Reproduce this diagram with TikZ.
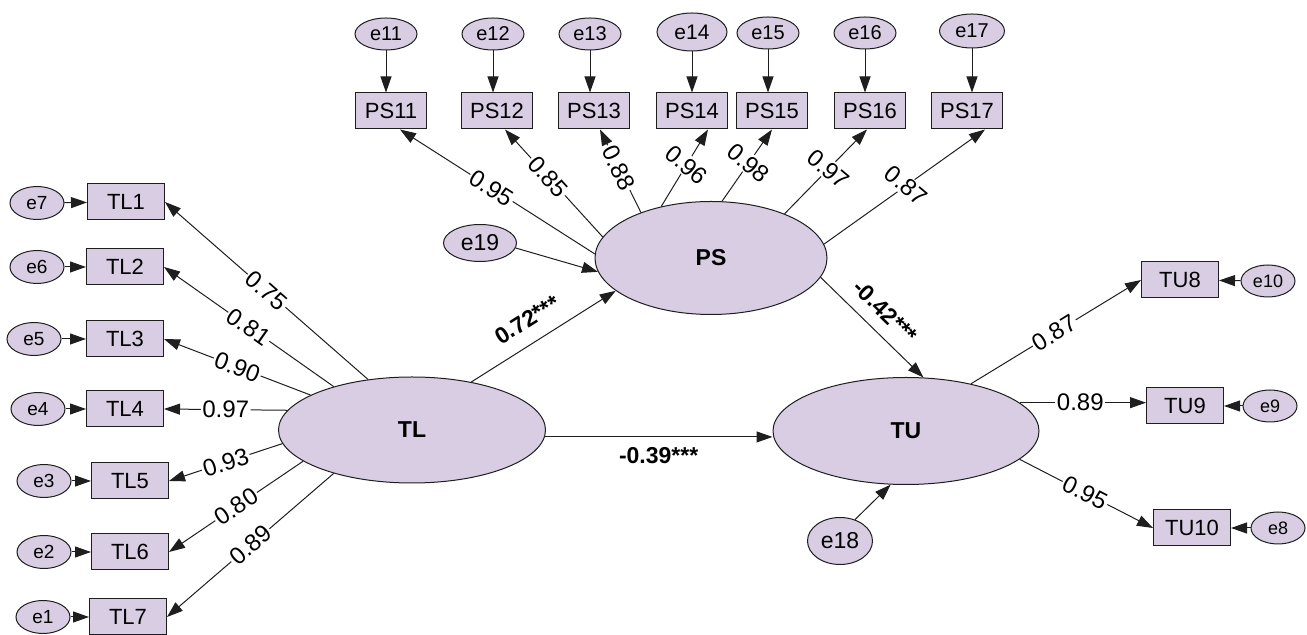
\documentclass[tikz,border=0pt]{standalone}
\usepackage{fontspec}
\setmainfont{Liberation Sans}
\usetikzlibrary{arrows.meta,shapes.geometric}
\definecolor{semfill}{RGB}{216,205,227}
\definecolor{semline}{RGB}{30,30,30}
\tikzset{
  latent/.style={ellipse, draw=semline, line width=0.5pt, fill=semfill, inner sep=0pt, font=\fontsize{11.5}{13}\selectfont\bfseries},
  item/.style={rectangle, draw=semline, line width=0.5pt, fill=semfill, inner sep=0pt, minimum width=38.5pt, minimum height=18pt, font=\fontsize{11}{13}\selectfont},
  psitem/.style={item, minimum width=35.5pt},
  errl/.style={ellipse, draw=semline, line width=0.5pt, fill=semfill, inner sep=0pt, minimum width=27pt, minimum height=16.5pt, font=\fontsize{9.5}{11}\selectfont},
  errt/.style={errl, minimum width=31pt, minimum height=16pt, font=\fontsize{10}{12}\selectfont},
  errr/.style={errl, minimum width=27pt, minimum height=16pt, font=\fontsize{9}{11}\selectfont},
  errb/.style={errl, font=\fontsize{11.5}{13}\selectfont},
  reg/.style={draw=semline, line width=0.5pt, -{Triangle[length=8pt,width=5.5pt]}},
  coef/.style={sloped, fill=white, inner sep=0.8pt, font=\fontsize{12}{14}\selectfont},
  coefr/.style={rotate=-40, fill=white, inner sep=0.8pt, font=\fontsize{12}{14}\selectfont},
  effect/.style={font=\fontsize{11.5}{13}\selectfont\bfseries, inner sep=1pt}
}
\begin{document}
\begin{tikzpicture}[x=0.5pt, y=-0.5pt]
\useasboundingbox (0,0) rectangle (1307,635);

\node (TL) at (412,430) [latent, minimum width=133.5pt, minimum height=53pt] {TL};
\node (PS) at (711,258) [latent, minimum width=116pt, minimum height=56.5pt] {PS};
\node (TU) at (906,431) [latent, minimum width=133pt, minimum height=53.5pt] {TU};

\node (TL1) at (126,202) [item] {TL1};
\node (TL2) at (125,267) [item] {TL2};
\node (TL3) at (125,339) [item] {TL3};
\node (TL4) at (125,409) [item] {TL4};
\node (TL5) at (130,481) [item] {TL5};
\node (TL6) at (130,552) [item] {TL6};
\node (TL7) at (128,617) [item] {TL7};

\node (e7) at (37,203) [errl] {e7};
\node (e6) at (37,267) [errl] {e6};
\node (e5) at (34,339) [errl] {e5};
\node (e4) at (38,409) [errl] {e4};
\node (e3) at (44,481) [errl] {e3};
\node (e2) at (44,552) [errl] {e2};
\node (e1) at (43,617) [errl] {e1};

\node (PS11) at (391,111) [psitem] {PS11};
\node (PS12) at (497,111) [psitem] {PS12};
\node (PS13) at (594,111) [psitem] {PS13};
\node (PS14) at (692,111) [psitem] {PS14};
\node (PS15) at (772,111) [psitem] {PS15};
\node (PS16) at (870,111) [psitem] {PS16};
\node (PS17) at (967,111) [psitem] {PS17};

\node (e11) at (386,34) [errt] {e11};
\node (e12) at (493,34) [errt] {e12};
\node (e13) at (590,34) [errt] {e13};
\node (e14) at (692,32) [errt, minimum width=35pt, minimum height=19pt, font=\fontsize{10.5}{12}\selectfont] {e14};
\node (e15) at (768,33) [errt] {e15};
\node (e16) at (865,33) [errt] {e16};
\node (e17) at (972,31) [errt, minimum width=32.5pt, minimum height=17pt] {e17};

\node (TU8) at (1180,280) [item] {TU8};
\node (TU9) at (1185,406) [item] {TU9};
\node (TU10) at (1192,528) [item] {TU10};

\node (e10) at (1268,281) [errr] {e10};
\node (e9) at (1270,406) [errr] {e9};
\node (e8) at (1278,528) [errr] {e8};

\node (e19) at (480,243) [errb, minimum width=36.5pt, minimum height=18.5pt] {e19};
\node (e18) at (840,541) [errb, minimum width=32.5pt, minimum height=23.5pt] {e18};

\draw [reg] (e7) -- (TL1);
\draw [reg] (e6) -- (TL2);
\draw [reg] (e5) -- (TL3);
\draw [reg] (e4) -- (TL4);
\draw [reg] (e3) -- (TL5);
\draw [reg] (e2) -- (TL6);
\draw [reg] (e1) -- (TL7);

\draw [reg] (TL.131) -- (TL1.east) node [coef, pos=0.5] {0.75};
\draw [reg] (TL.151) -- (TL2.east) node [coef, pos=0.5] {0.81};
\draw [reg] (TL.161) -- (TL3.east) node [coef, pos=0.5] {0.90};
\draw [reg] (TL.171) -- (TL4.east) node [coef, pos=0.5] {0.97};
\draw [reg] (TL.186) -- (TL5.east) node [coef, pos=0.5] {0.93};
\draw [reg] (TL.196) -- (TL6.east) node [coef, pos=0.5] {0.80};
\draw [reg] (TL.209) -- (TL7.east) node [coef, pos=0.5] {0.89};

\draw [reg] (e11) -- (e11 |- PS11.north);
\draw [reg] (e12) -- (e12 |- PS12.north);
\draw [reg] (e13) -- (e13 |- PS13.north);
\draw [reg] (e14) -- (e14 |- PS14.north);
\draw [reg] (e15) -- (e15 |- PS15.north);
\draw [reg] (e16) -- (e16 |- PS16.north);
\draw [reg] (e17) -- (e17 |- PS17.north);

\draw [reg] (PS.178) -- ([xshift=4.5pt]PS11.south) node [coef, pos=0.53] {0.95};
\draw [reg] (PS.169) -- ([xshift=4pt]PS12.south) node [coef, pos=0.56] {0.85};
\draw [reg] (PS.147) -- ([xshift=3pt]PS13.south) node [coef, pos=0.54] {0.88};
\draw [reg] (PS.134) -- ([xshift=8pt]PS14.south) node [coefr, pos=0.54] {0.96};
\draw [reg] (PS.79) -- (PS15.south) node [coefr, pos=0.53] {0.98};
\draw [reg] (PS.31) -- ([xshift=-1.5pt]PS16.south) node [coefr, pos=0.53] {0.97};
\draw [reg] (PS.7) -- ([xshift=9pt]PS17.south) node [coefr, pos=0.51] {0.87};

\draw [reg] (TU.36) -- (TU8.west) node [coef, pos=0.49] {0.87};
\draw [reg] (TU.14) -- (TU.14 -| TU9.west) node [coef, pos=0.48] {0.89};
\draw [reg] (TU.-14) -- (TU10.west) node [coef, pos=0.49] {0.95};

\draw [reg] (e10) -- (TU8);
\draw [reg] (e9) -- (TU9);
\draw [reg] (e8) -- (TU10);

\draw [reg] (TL.39) -- (PS.199) node [effect, sloped, above=6pt, pos=0.47] {0.72***};
\draw [reg] (TL.-3.4) -- (TL.-3.4 -| TU.west) node [effect, below=4pt, midway] {-0.39***};
\draw [reg] (PS.-10) -- (TU.72.5) node [effect, sloped, above=5pt, pos=0.49] {-0.42***};
\draw [reg] (e19.-8) -- (PS.187);
\draw [reg] (e18.55) -- (TU.-106);
\end{tikzpicture}
\end{document}
